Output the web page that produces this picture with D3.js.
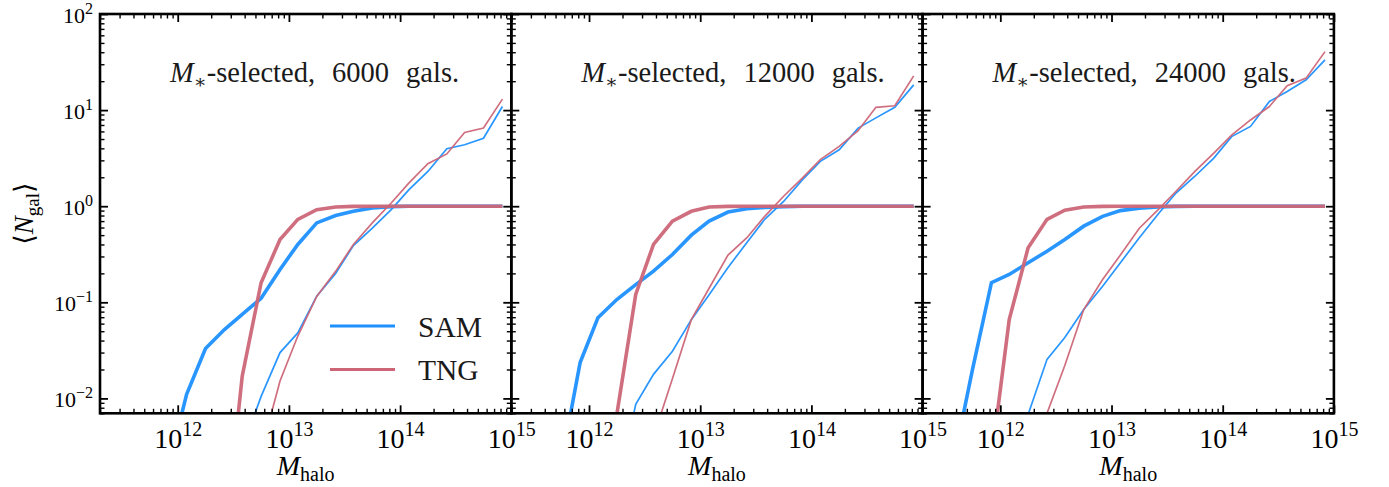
<!DOCTYPE html>
<html><head><meta charset="utf-8">
<script src="https://cdn.jsdelivr.net/npm/d3@7"></script>
<style>body{margin:0;background:#fff}svg{display:block}</style>
</head><body><svg id="c" width="1389" height="487"></svg>
<script>
// ---- data ----
const logMass = [11.08,11.25,11.42,11.58,11.75,11.92,12.08,12.25,12.42,12.58,12.75,12.92,
                 13.08,13.25,13.42,13.58,13.75,13.92,14.08,14.25,14.42,14.58,14.75,14.92];
const panelCounts = ["6000","12000","24000"];
const seriesNames = ["SAM","TNG"];
const seriesColors = ["#1E90FF","#CC6677"];

const samCen1 = [0,0,0,0,0,0.002,0.011,0.033,0.052,0.075,0.11,0.22,0.40,0.67,0.80,0.885,0.96,0.99,1,1,1,1,1,1];
const tngCen1 = [0,0,0,0,0,0,0,0,0.0003,0.017,0.16,0.45,0.73,0.92,0.98,0.995,1,1,1,1,1,1,1,1];
const samSat1 = [0,0,0,0,0,0,0,0,0,0.003,0.0105,0.030,0.048,0.116,0.20,0.39,0.59,0.92,1.49,2.3,3.96,4.36,5.1,10.9];
const tngSat1 = [0,0,0,0,0,0,0,0,0,0,0.0028,0.0152,0.0446,0.115,0.21,0.40,0.67,1.08,1.75,2.77,3.5,5.86,6.5,13.0];

const samCen2 = [0,0,0,0,0.0021,0.0236,0.069,0.107,0.153,0.211,0.314,0.50,0.70,0.87,0.94,0.97,0.99,1,1,1,1,1,1,1];
const tngCen2 = [0,0,0,0,0,0,0.0001,0.0068,0.121,0.40,0.70,0.885,0.98,0.995,1,1,1,1,1,1,1,1,1,1];
const samSat2 = [0,0,0,0,0,0,0,0.001,0.0087,0.0178,0.031,0.066,0.12,0.23,0.42,0.73,1.12,1.89,2.93,3.87,6.5,8.3,10.7,18.3];
const tngSat2 = [0,0,0,0,0,0,0,0,0,0.004,0.016,0.066,0.14,0.31,0.47,0.785,1.27,1.97,3.05,4.19,6.1,10.7,11.1,22.7];

const samCen3 = [0,0,0,0.0022,0.020,0.16,0.195,0.258,0.34,0.45,0.62,0.785,0.90,0.955,0.98,0.995,1,1,1,1,1,1,1,1];
const tngCen3 = [0,0,0,0,0,0.0023,0.066,0.37,0.73,0.91,0.98,0.995,1,1,1,1,1,1,1,1,1,1,1,1];
const samSat3 = [0,0,0,0,0,0,0.001,0.0068,0.0255,0.043,0.084,0.147,0.258,0.47,0.83,1.37,2.05,3.17,5.3,6.76,12.3,15.6,20.7,33.3];
const tngSat3 = [0,0,0,0,0,0,0,0.0015,0.0070,0.022,0.084,0.173,0.31,0.59,0.92,1.43,2.3,3.57,5.5,7.9,10.9,17.9,21.5,40.6];

const xMajorExp = [12,13,14,15];
const yMajorExp = [-2,-1,0,1,2];
const xDomain = [2e11, 1e15];
const yDomain = [7e-3, 100];

const panels = [
  {count: panelCounts[0], sam: [samCen1, samSat1], tng: [tngCen1, tngSat1]},
  {count: panelCounts[1], sam: [samCen2, samSat2], tng: [tngCen2, tngSat2]},
  {count: panelCounts[2], sam: [samCen3, samSat3], tng: [tngCen3, tngSat3]},
];

// ---- layout ----
const FONT = "'Liberation Serif', 'DejaVu Serif', serif";
const left0 = 100, topY = 14, pw = 411.3, ph = 399.3;
const svg = d3.select("#c");
svg.append("rect").attr("width",1389).attr("height",487).attr("fill","#fff");

function minorTicks(lo, hi){
  const out=[];
  for(let e=Math.floor(Math.log10(lo)); e<=Math.ceil(Math.log10(hi)); e++){
    for(let k=2;k<=9;k++){const v=k*Math.pow(10,e); if(v>=lo*0.999 && v<=hi*1.001) out.push(v);}
  }
  return out;
}
const xMinor = minorTicks(xDomain[0], xDomain[1]);
const yMinor = minorTicks(yDomain[0], yDomain[1]);
const xMajor = xMajorExp.map(e=>Math.pow(10,e));
const yMajor = yMajorExp.map(e=>Math.pow(10,e));

const MAJ=8, MIN=4.5;

panels.forEach((p, i) => {
  const x0 = left0 + i*pw;
  const g = svg.append("g").attr("transform",`translate(${x0},${topY})`);
  const x = d3.scaleLog().domain(xDomain).range([0,pw]);
  const y = d3.scaleLog().domain(yDomain).range([ph,0]);

  const cid = "clip"+i;
  g.append("clipPath").attr("id",cid).append("rect").attr("width",pw).attr("height",ph);

  const line = d3.line()
    .defined(d => d[1] > 0)
    .x(d => x(Math.pow(10,d[0])))
    .y(d => y(d[1]));

  const lg = g.append("g").attr("clip-path",`url(#${cid})`);
  [p.sam, p.tng].forEach((pair, si) => {
    pair.forEach((arr, k) => {
      lg.append("path")
        .attr("d", line(logMass.map((m,j)=>[m, arr[j]])))
        .attr("fill","none")
        .attr("stroke", seriesColors[si])
        .attr("stroke-width", k===0 ? 3.6 : 1.7)
        .attr("stroke-linejoin","miter")
        .attr("stroke-opacity", 0.95);
    });
  });

  function styleAxis(sel, w){
    sel.select(".domain").remove();
    sel.selectAll(".tick line").attr("stroke","#000").attr("stroke-width",w);
  }
  [[d3.axisBottom(x), `translate(0,${ph})`],[d3.axisTop(x), `translate(0,0)`]].forEach(([ax, tr]) => {
    g.append("g").attr("transform",tr)
      .call(ax.tickValues(xMinor).tickSize(-MIN).tickSizeOuter(0).tickFormat(""))
      .call(s=>styleAxis(s,1.4));
  });
  [[d3.axisLeft(y), `translate(0,0)`],[d3.axisRight(y), `translate(${pw},0)`]].forEach(([ax, tr]) => {
    g.append("g").attr("transform",tr)
      .call(ax.tickValues(yMinor).tickSize(-MIN).tickSizeOuter(0).tickFormat(""))
      .call(s=>styleAxis(s,1.4));
  });

  const xb = g.append("g").attr("transform",`translate(0,${ph})`)
    .call(d3.axisBottom(x).tickValues(xMajor).tickSize(-MAJ).tickSizeOuter(0).tickFormat(()=>""))
    .call(s=>styleAxis(s,1.8));
  xb.selectAll(".tick text").each(function(d){
    const t = d3.select(this).attr("y",35).attr("dy",0)
      .attr("font-family",FONT).attr("font-size",28).attr("fill","#000").attr("text-anchor","middle");
    t.text("");
    t.append("tspan").text("10");
    t.append("tspan").attr("font-size",20).attr("dy",-12).text(String(Math.round(Math.log10(d))));
  });
  g.append("g").call(d3.axisTop(x).tickValues(xMajor).tickSize(-MAJ).tickSizeOuter(0).tickFormat(""))
    .call(s=>styleAxis(s,1.8));
  const yl = g.append("g").call(d3.axisLeft(y).tickValues(yMajor).tickSize(-MAJ).tickSizeOuter(0).tickFormat(()=>""))
    .call(s=>styleAxis(s,1.8));
  if(i===0){
    yl.selectAll(".tick text").each(function(d){
      const t = d3.select(this).attr("x",-7).attr("dy",0).attr("y",8)
        .attr("font-family",FONT).attr("font-size",22).attr("fill","#000").attr("text-anchor","end");
      t.text("");
      const e = Math.round(Math.log10(d));
      t.append("tspan").text("10");
      t.append("tspan").attr("font-size",16).attr("dy",-9).text(e<0 ? "\u2212"+(-e) : String(e));
    });
  }
  g.append("g").attr("transform",`translate(${pw},0)`)
    .call(d3.axisRight(y).tickValues(yMajor).tickSize(-MAJ).tickSizeOuter(0).tickFormat(""))
    .call(s=>styleAxis(s,1.8));

  g.append("rect").attr("width",pw).attr("height",ph).attr("fill","none")
    .attr("stroke","#000").attr("stroke-width",2.6);

  const an = g.append("text").attr("x",70).attr("y",68)
    .attr("font-family",FONT).attr("font-size",28.5).attr("fill","#1a1a1a");
  an.append("tspan").attr("font-style","italic").text("M");
  an.append("tspan").attr("font-size",19).attr("dy",6).text("\u2217");
  an.append("tspan").attr("dy",-6).text("-selected,");
  an.append("tspan").attr("dx",17).text(p.count);
  an.append("tspan").attr("dx",17).text("gals.");

  const xt = g.append("text").attr("x",pw/2).attr("y",ph+62).attr("text-anchor","middle")
    .attr("font-family",FONT).attr("font-size",28).attr("fill","#000");
  xt.append("tspan").attr("font-style","italic").text("M");
  xt.append("tspan").attr("font-size",20).attr("dy",6).text("halo");

  if(i===0){
    seriesNames.forEach((nm, si) => {
      const ly = 312 + si*43.5;
      g.append("line").attr("x1",230).attr("x2",295).attr("y1",ly).attr("y2",ly)
        .attr("stroke",seriesColors[si]).attr("stroke-width",3.2);
      g.append("text").attr("x",318).attr("y",ly+10.5)
        .attr("font-family",FONT).attr("font-size",29.5).attr("fill","#1a1a1a").text(nm);
    });
  }
});

const yt = svg.append("text").attr("transform",`translate(33,${topY+ph/2}) rotate(-90)`)
  .attr("text-anchor","middle").attr("font-family",FONT).attr("font-size",27).attr("fill","#000");
yt.append("tspan").text("\u27E8");
yt.append("tspan").attr("font-style","italic").text("N");
yt.append("tspan").attr("font-size",19).attr("dy",6).text("gal");
yt.append("tspan").attr("dy",-6).text("\u27E9");
</script>
</body></html>
